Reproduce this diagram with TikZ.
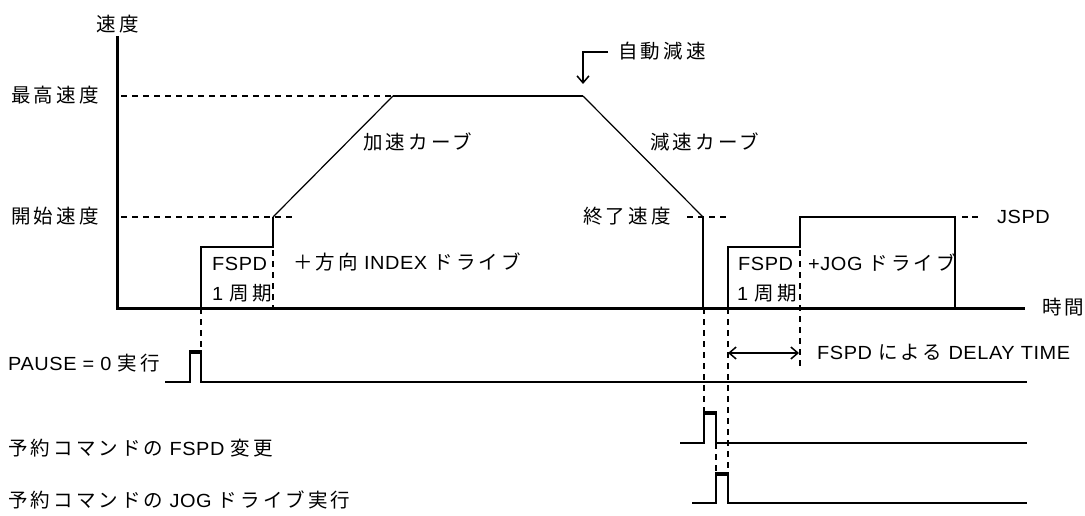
\documentclass[tikz,border=0pt]{standalone}
\usepackage{fontspec}
\setmainfont{Liberation Sans}[LetterSpace=3,FakeStretch=1.05]
\newfontfamily\jpf{Noto Sans CJK JP}[LetterSpace=16]
\newcommand\jp[1]{{\fontsize{19.5}{20}\selectfont\jpf #1}}
\usetikzlibrary{arrows.meta}
\begin{document}
\begin{tikzpicture}[x=1pt,y=-1pt,
  lbl/.style={font=\fontsize{19}{20}\selectfont, inner sep=0pt, text height=13pt, text depth=0pt, anchor=west},
  axisline/.style={line width=3pt},
  thickline/.style={line width=2.3pt},
  thinline/.style={line width=1.2pt},
  dashline/.style={line width=2pt, dash pattern=on 6pt off 5pt},
  sigline/.style={line width=2pt},
  pulsetop/.style={line width=4.5pt},
  barb/.style={line width=1.5pt},
  tip/.tip={Straight Barb[length=7pt,width=12pt]}
]
\useasboundingbox (0,0) rectangle (1085,516);

% axes
\coordinate (o) at (117,308);
\coordinate (ytop) at (117,36);
\coordinate (xend) at (1025,308);
\draw[axisline] (ytop) -- (o) -- (xend);
\node[lbl, anchor=center] (ylab) at (118,25) {\jp{速度}};
\node[lbl] (xlab) at (1042,308) {\jp{時間}};

% level labels
\node[lbl] (maxlab) at (11,96) {\jp{最高速度}};
\node[lbl] (startlab) at (11,217) {\jp{開始速度}};
\node[lbl] (endlab) at (583,217) {\jp{終了速度}};
\node[lbl] (jspdlab) at (997,217) {JSPD};

% profile coordinates
\coordinate (a0) at (201,308);
\coordinate (a1) at (201,247);
\coordinate (a2) at (273,247);
\coordinate (a3) at (273,217);
\coordinate (a4) at (393,96);
\coordinate (a5) at (583,96);
\coordinate (a6) at (703,217);
\coordinate (a7) at (703,308);
\coordinate (b0) at (728,308);
\coordinate (b1) at (728,247);
\coordinate (b2) at (800,247);
\coordinate (b3) at (800,217);
\coordinate (b4) at (955,217);
\coordinate (b5) at (955,308);

% dashed guide lines
\coordinate (dmax0) at (121,96);
\coordinate (dst0) at (121,217);
\coordinate (dst1) at (292,217);
\draw[dashline] (dmax0) -- (a4);
\draw[dashline] (dst0) -- (dst1);
\coordinate (de0) at (687,217);
\coordinate (de1) at (728,217);
\draw[dashline] (de0) -- (de1);
\coordinate (dj0) at (962,217);
\coordinate (dj1) at (979,217);
\draw[line width=2pt, dash pattern=on 6pt off 4pt] (dj0) -- (dj1);

% profile
\draw[thickline] (a0) -- (a1) -- (a2) -- (a3);
\draw[thinline] (a3) -- (a4);
\draw[thickline] (a4) -- (a5);
\draw[thinline] (a5) -- (a6);
\draw[thickline] (a6) -- (a7);
\draw[thickline] (b0) -- (b1) -- (b2) -- (b3) -- (b4) -- (b5);

% dashed verticals inside boxes
\coordinate (p1) at (273,250);
\coordinate (p2) at (273,308);
\draw[dashline] (p1) -- (p2);
\coordinate (q1) at (800,250);
\coordinate (q2) at (800,366);
\draw[dashline] (q1) -- (q2);

% profile labels
\node[lbl] (acc) at (363,143) {\jp{加速カーブ}};
\node[lbl] (dec) at (650,143) {\jp{減速カーブ}};
\node[lbl] (f1) at (212,264) {FSPD};
\node[lbl] (c1) at (212,294) {1 \jp{周期}};
\node[lbl] (idx) at (293,263) {\jp{＋方向} INDEX \jp{ドライブ}};
\node[lbl] (f2) at (738,264) {FSPD};
\node[lbl] (c2) at (737,294) {1 \jp{周期}};
\node[lbl] (jog) at (808,264) {+JOG \jp{ドライブ}};

% auto deceleration arrow
\node[lbl] (auto) at (618,52) {\jp{自動減速}};
\coordinate (ar0) at (608,52);
\coordinate (ar1) at (583,52);
\coordinate (ar2) at (583,84);
\draw[barb, -tip] (ar0) -- (ar1) -- (ar2);

% signals
\node[lbl] (s1) at (8,364) {PAUSE = 0 \jp{実行}};
\node[lbl] (s2) at (8,449) {\jp{予約コマンドの} FSPD \jp{変更}};
\node[lbl] (s3) at (8,501) {\jp{予約コマンドの} JOG \jp{ドライブ実行}};

\coordinate (u0) at (165,382);
\coordinate (u1) at (190,382);
\coordinate (u2) at (190,351);
\coordinate (u3) at (201,351);
\coordinate (u4) at (201,382);
\coordinate (u5) at (1027,382);
\draw[sigline] (u0) -- (u1) -- (u2) -- (u3) -- (u4) -- (u5);
\draw[pulsetop] ([yshift=-1pt]u2) -- ([yshift=-1pt]u3);

\coordinate (v0) at (680,443);
\coordinate (v1) at (704,443);
\coordinate (v2) at (704,412);
\coordinate (v3) at (716,412);
\coordinate (v4) at (716,443);
\coordinate (v5) at (1027,443);
\draw[sigline] (v0) -- (v1) -- (v2) -- (v3) -- (v4) -- (v5);
\draw[pulsetop] ([yshift=-1pt]v2) -- ([yshift=-1pt]v3);

\coordinate (w0) at (692,503);
\coordinate (w1) at (716,503);
\coordinate (w2) at (716,473);
\coordinate (w3) at (728,473);
\coordinate (w4) at (728,503);
\coordinate (w5) at (1027,503);
\draw[sigline] (w0) -- (w1) -- (w2) -- (w3) -- (w4) -- (w5);
\draw[pulsetop] ([yshift=-1pt]w2) -- ([yshift=-1pt]w3);

% dashed drop lines
\draw[dashline] (a0) -- (u3);
\coordinate (dv) at (704,308);
\draw[dashline] (dv) -- (v2);
\draw[dashline] (b0) -- (w3);
\draw[dashline] (v4) -- (w2);

% delay arrow
\coordinate (d0) at (728,353);
\coordinate (d1) at (799,353);
\draw[barb, tip-tip] (d0) -- (d1);
\node[lbl] (delay) at (817,353) {FSPD \jp{による} DELAY TIME};
\end{tikzpicture}
\end{document}
